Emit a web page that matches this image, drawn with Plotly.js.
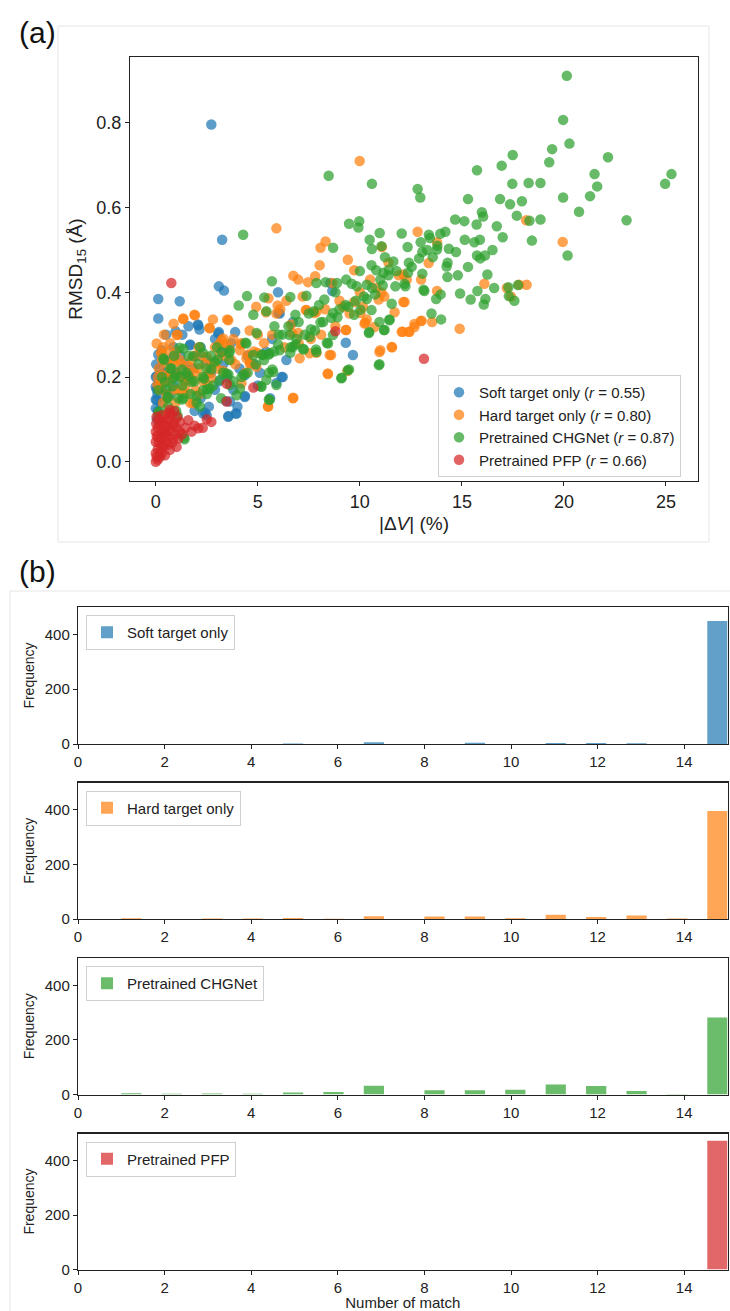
<!DOCTYPE html>
<html>
<head>
<meta charset="utf-8">
<script src="https://cdn.plot.ly/plotly-3.0.1.min.js"></script>
<style>html,body{margin:0;padding:0;background:#fff;}#chart{width:730px;height:1311px;}</style>
</head>
<body>
<div id="chart"></div>
<script>
// ---------------- Data: panel (a) scatter ----------------
const softX = [2.72,3.25,3.09,3.34,0.12,1.17,0.12,5.99,8.65,8.55,6.01,2.06,2.14,3.09,3.89,0.97,1.69,9.31,9.66,6.22,5.91,3.56,3.91,3.44,4.37,2.41,0.04,0.04,0.00,0.12,2.08,3.06,1.67,0.86,0.00,0.00,0.04,0.00,2.32,2.49,3.55,3.96,3.63,4.36,4.36,6.16,6.72,6.07,0.29,0.86,
  0.05,0.10,0.08,0.15,0.20,0.02,0.25,0.30,0.40,0.50,0.60,0.70,0.90,1.00,1.20,1.40,1.50,1.80,2.00,2.20,2.50,2.70,2.90,3.10,3.30,3.50,3.80,4.10,4.50,4.80,5.10,5.40,5.70,6.40,1.30,1.60,0.50,2.60,2.20,1.90,4.00,3.70,2.90,3.30,5.00,5.60];
const softY = [0.796,0.524,0.414,0.404,0.384,0.379,0.338,0.400,0.403,0.422,0.351,0.324,0.312,0.306,0.306,0.308,0.277,0.281,0.252,0.200,0.186,0.108,0.114,0.143,0.155,0.116,0.202,0.171,0.147,0.253,0.322,0.303,0.275,0.248,0.200,0.177,0.146,0.126,0.114,0.110,0.106,0.114,0.142,0.153,0.204,0.200,0.330,0.350,0.263,0.271,
  0.100,0.120,0.160,0.190,0.220,0.230,0.140,0.170,0.210,0.240,0.200,0.160,0.180,0.210,0.250,0.230,0.200,0.220,0.250,0.270,0.240,0.210,0.170,0.190,0.230,0.200,0.170,0.220,0.250,0.230,0.210,0.260,0.290,0.240,0.300,0.320,0.300,0.130,0.150,0.120,0.130,0.280,0.290,0.260,0.180,0.150];

const hardX = [9.99,5.91,12.83,8.32,8.07,11.08,18.15,19.94,13.78,9.41,8.03,9.72,13.37,6.74,6.98,7.46,7.81,8.65,12.13,12.19,12.13,17.20,17.80,18.17,13.78,11.06,10.92,9.72,10.03,10.34,10.26,10.71,11.70,12.98,12.67,12.40,12.05,13.54,14.89,11.00,11.58,9.31,8.59,8.42,9.39,7.87,7.35,7.77,6.74,6.67,6.98,5.50,5.97,5.91,5.40,6.63,4.92,5.52,3.50,2.80,1.89,1.34,0.87,1.07,2.62,0.04,0.25,3.23,3.44,4.53,4.98,4.63,3.13,0.87,0.66,0.08,1.48,1.89,1.32,1.69,0.35,0.45,1.59,3.30,2.72,4.16,1.35,1.92,1.02,2.65,3.55,0.29,0.53,0.37,0.21,0.53,1.59,1.83,1.51,1.83,2.89,3.14,3.30,4.12,4.44,4.61,4.93,4.20,6.72,5.50,8.44,10.96,11.56,12.10,12.43,12.68,13.03,10.23,9.33,8.52,7.54,7.05,7.38,7.87,9.17,10.15,2.49,
  11.40,11.90,12.30,13.00,10.50,10.80,11.20,9.00,8.30,7.20,6.40,6.10,5.00,4.60,4.20,3.80,3.60,2.90,2.40,2.10,1.20,1.00,0.70,0.40,0.15,0.60,0.90,1.20,2.30,2.60,3.00,3.70,5.30,5.70,6.30,7.00,7.60,8.10,8.80,9.50,10.00,16.10,17.40,
  0.10,0.20,0.30,0.45,0.55,0.75,0.85,1.10,1.25,1.40,1.65,1.75,1.95,2.05,2.20,2.35,2.55,2.75,0.65,1.05,1.45,1.85,2.15,0.95,0.35,3.40,3.90,4.40,4.80];
const hardY = [0.710,0.551,0.543,0.520,0.505,0.507,0.570,0.519,0.518,0.477,0.464,0.452,0.469,0.439,0.430,0.424,0.438,0.422,0.442,0.377,0.377,0.410,0.418,0.418,0.403,0.399,0.383,0.377,0.351,0.336,0.328,0.318,0.353,0.332,0.325,0.307,0.307,0.330,0.314,0.263,0.270,0.311,0.252,0.208,0.214,0.257,0.358,0.351,0.151,0.304,0.304,0.131,0.369,0.350,0.353,0.324,0.366,0.386,0.336,0.336,0.347,0.337,0.326,0.300,0.316,0.279,0.257,0.287,0.277,0.253,0.257,0.233,0.253,0.233,0.210,0.182,0.194,0.210,0.163,0.139,0.139,0.112,0.226,0.214,0.198,0.277,0.338,0.346,0.299,0.315,0.334,0.256,0.232,0.204,0.181,0.150,0.212,0.193,0.161,0.138,0.232,0.279,0.291,0.263,0.244,0.232,0.224,0.185,0.150,0.130,0.207,0.259,0.271,0.307,0.307,0.318,0.333,0.326,0.311,0.252,0.256,0.244,0.358,0.354,0.366,0.366,0.248,
  0.470,0.440,0.430,0.430,0.430,0.410,0.390,0.380,0.360,0.390,0.380,0.360,0.300,0.310,0.280,0.290,0.270,0.270,0.230,0.270,0.240,0.260,0.280,0.300,0.220,0.190,0.170,0.200,0.190,0.210,0.220,0.240,0.280,0.300,0.270,0.280,0.290,0.300,0.320,0.350,0.400,0.420,0.390,
  0.200,0.170,0.240,0.190,0.160,0.200,0.240,0.170,0.230,0.190,0.200,0.240,0.170,0.220,0.250,0.200,0.180,0.230,0.260,0.210,0.180,0.250,0.160,0.140,0.270,0.250,0.230,0.210,0.260];

const chgX = [20.14,19.96,20.27,19.42,19.28,22.16,17.49,16.95,15.74,21.50,25.27,24.96,21.63,18.85,18.27,17.47,21.28,19.96,17.94,17.36,16.87,20.74,17.69,18.85,18.31,23.07,18.43,20.18,15.30,15.98,16.04,14.67,15.12,15.72,16.71,14.19,13.94,13.38,13.43,15.14,15.88,15.61,12.98,12.34,14.36,14.71,13.78,13.06,13.57,15.74,16.13,12.83,12.96,10.59,8.47,4.28,9.47,9.97,9.93,10.97,10.48,10.59,11.06,11.23,8.69,12.05,11.64,10.57,10.80,11.43,11.16,12.54,12.36,13.06,14.25,14.29,16.25,16.58,15.76,14.91,15.43,16.15,16.07,17.28,17.30,17.57,17.75,13.96,13.74,13.51,13.98,13.12,13.16,12.23,12.19,11.74,11.56,11.45,11.18,10.46,10.96,10.57,10.34,10.75,11.12,10.34,9.85,9.33,8.88,8.32,7.87,8.26,8.69,8.90,7.73,8.07,7.60,7.38,9.43,10.03,9.72,9.47,9.11,5.69,4.47,4.06,4.78,5.32,5.42,6.59,6.84,7.85,8.38,6.84,6.59,7.25,5.99,5.54,5.19,5.81,6.02,4.94,5.54,5.71,5.15,5.54,4.39,4.30,3.60,3.56,3.03,2.72,2.37,2.51,2.00,2.31,1.28,0.97,0.82,0.56,1.28,0.16,1.07,1.38,1.17,1.85,1.59,
  1.41,0.12,0.61,1.35,2.16,2.32,2.65,1.75,1.18,0.86,3.14,3.63,3.96,3.47,4.12,5.58,5.42,5.18,5.75,5.91,5.26,5.58,6.07,6.72,7.21,6.56,7.54,7.87,8.44,8.68,9.09,9.41,10.93,10.44,11.21,11.45,10.96,4.44,4.77,3.63,3.22,2.16,1.35,2.49,2.89,0.78,0.12,0.45,0.37,
  0.30,0.50,0.70,0.90,1.10,1.30,1.50,1.70,1.90,2.10,2.30,2.50,2.70,3.00,3.30,3.60,2.00,1.00,0.60,2.80,3.20,1.60,0.40,
  6.20,6.50,6.90,7.30,7.80,8.20,8.60,9.00,9.30,9.80,10.20,10.60,11.00,11.40,11.80,12.40,12.90,13.30,13.80,14.30,14.80,15.30,15.90,16.50,17.00,10.00,9.60,8.80,8.00,7.50,7.00,6.60,5.80,5.30,4.90,4.50,4.20,3.80];
const chgY = [0.911,0.807,0.751,0.738,0.707,0.719,0.724,0.699,0.688,0.679,0.679,0.656,0.650,0.658,0.658,0.656,0.627,0.624,0.615,0.608,0.620,0.590,0.581,0.572,0.569,0.570,0.522,0.487,0.620,0.589,0.579,0.572,0.568,0.560,0.556,0.543,0.538,0.536,0.528,0.524,0.524,0.518,0.518,0.507,0.503,0.495,0.501,0.495,0.483,0.487,0.487,0.644,0.624,0.656,0.675,0.536,0.562,0.568,0.553,0.540,0.524,0.502,0.509,0.483,0.505,0.539,0.473,0.464,0.452,0.454,0.446,0.460,0.446,0.444,0.461,0.436,0.442,0.410,0.403,0.397,0.383,0.384,0.371,0.412,0.391,0.380,0.417,0.395,0.384,0.350,0.336,0.406,0.403,0.414,0.420,0.414,0.373,0.336,0.311,0.306,0.230,0.358,0.384,0.395,0.416,0.418,0.414,0.430,0.422,0.424,0.422,0.383,0.351,0.341,0.355,0.329,0.313,0.392,0.366,0.359,0.347,0.218,0.198,0.426,0.391,0.369,0.347,0.388,0.355,0.389,0.347,0.265,0.281,0.277,0.257,0.265,0.277,0.253,0.253,0.320,0.300,0.304,0.210,0.218,0.178,0.147,0.281,0.206,0.257,0.206,0.241,0.218,0.196,0.171,0.155,0.257,0.218,0.202,0.178,0.151,0.147,0.119,0.108,0.057,0.269,0.249,0.202,
  0.053,0.114,0.153,0.150,0.130,0.169,0.173,0.189,0.200,0.197,0.193,0.181,0.157,0.208,0.173,0.146,0.193,0.177,0.212,0.181,0.252,0.256,0.263,0.271,0.267,0.299,0.295,0.259,0.279,0.299,0.197,0.216,0.228,0.304,0.311,0.334,0.330,0.279,0.252,0.263,0.259,0.271,0.267,0.220,0.236,0.220,0.169,0.189,0.244,
  0.200,0.170,0.220,0.250,0.150,0.180,0.210,0.160,0.190,0.230,0.200,0.160,0.250,0.270,0.210,0.240,0.140,0.120,0.130,0.180,0.150,0.250,0.240,
  0.300,0.320,0.290,0.300,0.310,0.330,0.340,0.360,0.370,0.380,0.390,0.410,0.430,0.440,0.450,0.470,0.480,0.500,0.510,0.470,0.440,0.460,0.480,0.500,0.530,0.450,0.420,0.400,0.370,0.350,0.330,0.270,0.260,0.240,0.230,0.210,0.200,0.190];

const pfpX = [0.76,8.80,13.14,3.48,4.78,3.48,2.72,2.08,1.75,1.59,1.18,0.69,0.78,0.00,0.04,0.21,0.37,0.53,0.00,0.12,0.29,0.53,0.69,0.04,0.37,0.86,1.02,0.69,0.21,0.45,0.00,0.02,1.18,
  0.10,0.15,0.25,0.30,0.40,0.50,0.60,0.70,0.80,0.90,1.00,0.55,0.30,0.20,0.10,0.05,0.00,0.10,0.30,0.45,0.60,0.80,0.95,1.10,0.65,0.90,1.05,0.15,0.40,1.30,1.45,2.30,2.50,1.90];
const pfpY = [0.422,0.308,0.243,0.184,0.175,0.142,0.094,0.079,0.071,0.098,0.071,0.122,0.110,0.000,0.012,0.024,0.035,0.047,0.047,0.059,0.071,0.083,0.098,0.106,0.094,0.055,0.035,0.028,0.012,0.067,0.071,0.090,0.094,
  0.030,0.045,0.055,0.040,0.060,0.070,0.060,0.075,0.085,0.090,0.080,0.100,0.110,0.090,0.080,0.060,0.020,0.005,0.020,0.015,0.040,0.045,0.065,0.055,0.115,0.120,0.105,0.100,0.085,0.065,0.080,0.080,0.100,0.085];

const scatterNames = ['Soft target only (<i>r</i> = 0.55)','Hard target only (<i>r</i> = 0.80)','Pretrained CHGNet (<i>r</i> = 0.87)','Pretrained PFP (<i>r</i> = 0.66)'];

// ---------------- Data: panel (b) histograms ----------------
const matchNums  = [1,2,3,4,5,6,7,8,9,10,11,12,13,14,15];
const softCounts = [0,0,0,0,2,0,6,0,5,0,4,4,3,0,449];
const hardCounts = [3,0,2,2,4,1,10,9,9,3,16,7,13,2,396];
const chgCounts  = [5,3,4,3,7,9,32,16,16,17,37,31,13,2,282];
const pfpCounts  = [0,0,0,0,0,0,0,0,0,0,0,0,0,0,473];
const histNames  = ['Soft target only','Hard target only','Pretrained CHGNet','Pretrained PFP'];
const histXTicks = [0,2,4,6,8,10,12,14];

// ---------------- Styling ----------------
const W = 730, H = 1311;
const FONT = 'Liberation Sans, Arial, Helvetica, sans-serif';
const INK = '#222';
const baseCols = ['31,119,180','255,127,14','44,160,44','214,39,40'];
const px = v => v / W;
const py = v => 1 - v / H;

// histogram binning like matplotlib: 30 bins from 1 to 15
const binLo = 1, binHi = 15, nBins = 30, binW = (binHi - binLo) / nBins;
function binCenter(k) {
  let i = Math.floor((k - binLo) / binW + 1e-9);
  if (i > nBins - 1) i = nBins - 1;
  return binLo + (i + 0.5) * binW;
}
const barX = matchNums.map(binCenter);

const traces = [];
const sxs = [softX, hardX, chgX, pfpX], sys = [softY, hardY, chgY, pfpY];
for (let s = 0; s < 4; s++) {
  traces.push({
    type: 'scatter', mode: 'markers', x: sxs[s], y: sys[s], name: scatterNames[s],
    xaxis: 'x', yaxis: 'y', legend: 'legend',
    marker: {size: 10.5, color: 'rgb(' + baseCols[s] + ')', opacity: 0.72, line: {width: 0}},
    hoverinfo: 'skip'
  });
}
const counts = [softCounts, hardCounts, chgCounts, pfpCounts];
for (let s = 0; s < 4; s++) {
  traces.push({
    type: 'bar', x: barX, y: counts[s], width: binW, name: histNames[s],
    xaxis: 'x' + (s + 2), yaxis: 'y' + (s + 2), legend: 'legend' + (s + 2),
    marker: {color: 'rgba(' + baseCols[s] + ',0.7)', line: {width: 0}},
    showlegend: true, hoverinfo: 'skip'
  });
}

const axisCommon = {
  showline: true, mirror: true, linecolor: INK, linewidth: 1.2,
  ticks: 'outside', ticklen: 4, tickwidth: 1, tickcolor: INK,
  showgrid: false, zeroline: false,
  tickfont: {family: FONT, size: 15, color: INK}
};

const layout = {
  width: W, height: H,
  margin: {l: 0, r: 0, t: 0, b: 0},
  paper_bgcolor: '#fff', plot_bgcolor: '#fff',
  font: {family: FONT, color: INK},
  showlegend: true,
  xaxis: Object.assign({}, axisCommon, {
    domain: [px(130), px(698)], range: [-1.265, 26.57], anchor: 'y',
    tickvals: [0,5,10,15,20,25], tickfont: {family: FONT, size: 18, color: INK},
    title: {text: '|Δ<i>V</i>| (%)', font: {family: FONT, size: 19, color: INK}, standoff: 6}
  }),
  yaxis: Object.assign({}, axisCommon, {
    domain: [py(481), py(57)], range: [-0.0455, 0.9555], anchor: 'x',
    tickvals: [0,0.2,0.4,0.6,0.8], tickformat: '.1f', tickfont: {family: FONT, size: 18, color: INK},
    title: {text: 'RMSD<sub>15</sub> (Å)', font: {family: FONT, size: 19, color: INK}, standoff: 8}
  }),
  legend: {
    x: px(438), y: py(375), xanchor: 'left', yanchor: 'top',
    bgcolor: 'rgba(255,255,255,0.85)', bordercolor: '#d0d0d0', borderwidth: 1,
    font: {family: FONT, size: 15, color: INK}, itemsizing: 'trace', tracegroupgap: 4
  },
  shapes: [
    {type: 'rect', xref: 'paper', yref: 'paper', x0: px(58), x1: px(709), y0: py(542), y1: py(26), line: {color: '#e6e6e6', width: 1}},
    {type: 'rect', xref: 'paper', yref: 'paper', x0: px(10), x1: px(745), y0: py(1330), y1: py(591), line: {color: '#e6e6e6', width: 1}}
  ],
  annotations: [
    {text: '(a)', xref: 'paper', yref: 'paper', x: px(17), y: py(32), xanchor: 'left', yanchor: 'middle', showarrow: false, font: {family: FONT, size: 30, color: '#111'}},
    {text: '(b)', xref: 'paper', yref: 'paper', x: px(17), y: py(572), xanchor: 'left', yanchor: 'middle', showarrow: false, font: {family: FONT, size: 30, color: '#111'}}
  ]
};

const tops = [607, 782.5, 958, 1133.5], bots = [744, 919, 1094.5, 1269.5];
for (let s = 0; s < 4; s++) {
  const n = s + 2;
  const xa = Object.assign({}, axisCommon, {
    domain: [px(78), px(727.5)], range: [0, 15], anchor: 'y' + n,
    tickvals: histXTicks
  });
  if (s === 3) xa.title = {text: 'Number of match', font: {family: FONT, size: 15, color: INK}, standoff: 2};
  layout['xaxis' + n] = xa;
  layout['yaxis' + n] = Object.assign({}, axisCommon, {
    domain: [py(bots[s]), py(tops[s])], range: [0, 500], anchor: 'x' + n,
    tickvals: [0, 200, 400],
    title: {text: 'Frequency', font: {family: FONT, size: 14, color: INK}, standoff: 6}
  });
  layout['legend' + n] = {
    x: px(86), y: py(tops[s] + 8), xanchor: 'left', yanchor: 'top',
    bgcolor: 'rgba(255,255,255,0.9)', bordercolor: '#d0d0d0', borderwidth: 1,
    font: {family: FONT, size: 15, color: INK}
  };
}

Plotly.newPlot('chart', traces, layout, {displayModeBar: false, staticPlot: true});
</script>
</body>
</html>
